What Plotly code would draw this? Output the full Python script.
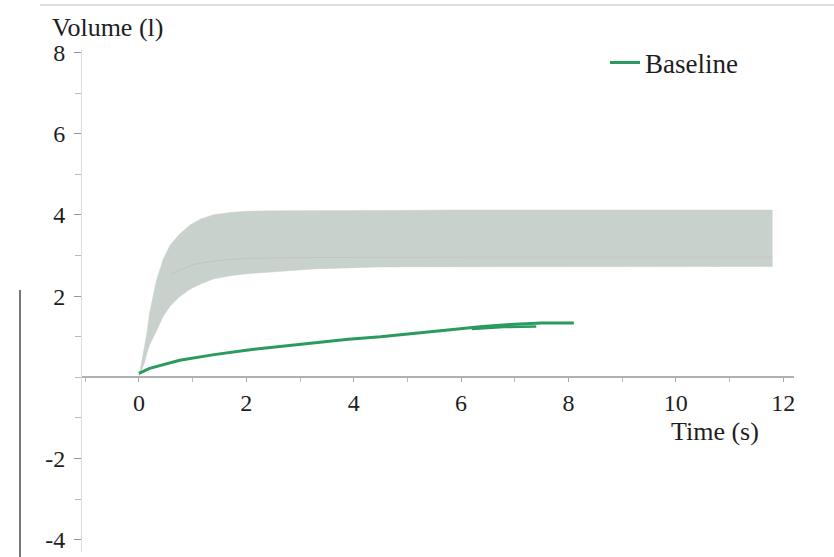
import plotly.graph_objects as go

# ---- data ----
band_t = [0, 0.1, 0.15, 0.2, 0.33, 0.45, 0.58, 0.75, 0.95, 1.15, 1.38, 1.7, 2.0, 2.5, 3.25, 4.5, 6, 8, 10, 11.8]
band_upper = [0, 0.7, 1.1, 1.6, 2.4, 2.9, 3.25, 3.52, 3.75, 3.9, 4.0, 4.06, 4.09, 4.1, 4.11, 4.11, 4.12, 4.12, 4.12, 4.12]
band_lower = [0, 0.35, 0.6, 0.8, 1.15, 1.5, 1.75, 1.98, 2.17, 2.3, 2.42, 2.5, 2.55, 2.6, 2.67, 2.72, 2.72, 2.73, 2.73, 2.73]
band_mid_t = [0.6, 1.0, 1.5, 2.0, 3.0, 4.5, 6, 8, 10, 11.8]
band_mid = [2.55, 2.78, 2.88, 2.93, 2.95, 2.96, 2.96, 2.96, 2.96, 2.96]

baseline_t = [0, 0.2, 0.76, 1.4, 2.0, 2.6, 3.25, 3.9, 4.5, 5.2, 5.8, 6.4, 7.0, 7.5, 8.1]
baseline_v = [0.1, 0.22, 0.42, 0.56, 0.67, 0.76, 0.85, 0.94, 1.0, 1.1, 1.17, 1.25, 1.31, 1.34, 1.34]
baseline2_t = [6.2, 6.8, 7.4]
baseline2_v = [1.19, 1.24, 1.25]

x_major = [0, 2, 4, 6, 8, 10, 12]
x_minor = [-1, 1, 3, 5, 7, 9, 11]
y_major = [-4, -2, 2, 4, 6, 8]
y_major_text = ["-4", "-2", "2", "4", "6", "8"]
y_minor = [-3, -1, 0, 1, 3, 5, 7]

X_RANGE = [-1.06, 12.2]
Y_RANGE = [-4.3, 8.06]

GREEN = "#2b9a5e"
BAND = "#c9d1cc"
FONT = "Liberation Serif"
TXT = "#1e1e1e"

fig = go.Figure()
fig.add_trace(go.Scatter(x=band_t, y=band_lower, mode="lines", line=dict(width=0.5, color=BAND),
                         showlegend=False, hoverinfo="skip"))
fig.add_trace(go.Scatter(x=band_t, y=band_upper, mode="lines", line=dict(width=0.5, color=BAND),
                         fill="tonexty", fillcolor=BAND, showlegend=False, hoverinfo="skip"))
fig.add_trace(go.Scatter(x=band_mid_t, y=band_mid, mode="lines", line=dict(width=1, color="#bfc7c2"),
                         showlegend=False, hoverinfo="skip"))
fig.add_trace(go.Scatter(x=baseline2_t, y=baseline2_v, mode="lines", line=dict(width=2.5, color=GREEN),
                         showlegend=False))
fig.add_trace(go.Scatter(x=baseline_t, y=baseline_v, mode="lines", line=dict(width=3, color=GREEN),
                         name="Baseline"))

W, H = 834, 557
ML, MR, MT, MB = 82, 40, 50, 5
pw, ph = W - ML - MR, H - MT - MB

def px_to_paper(px, py):
    return (px - ML) / pw, (H - MB - py) / ph

zero_pos = (0 - Y_RANGE[0]) / (Y_RANGE[1] - Y_RANGE[0])

fig.update_layout(
    width=W, height=H,
    margin=dict(l=ML, r=MR, t=MT, b=MB),
    paper_bgcolor="white", plot_bgcolor="white",
    font=dict(family=FONT, size=25, color=TXT),
    xaxis=dict(range=X_RANGE, tickvals=x_major, showgrid=False, zeroline=False,
               showline=True, linecolor="#b0b0b0", linewidth=1.5,
               ticks="outside", ticklen=4, tickcolor="#aaaaaa",
               minor=dict(tickvals=x_minor, ticks="outside", ticklen=4, tickcolor="#bbbbbb"),
               anchor="free", position=zero_pos, ticklabelstandoff=0,
               tickfont=dict(family=FONT, size=24, color=TXT)),
    yaxis=dict(range=Y_RANGE, tickvals=y_major, ticktext=y_major_text, showgrid=False, zeroline=False,
               showline=True, linecolor="#dddddd", linewidth=1,
               ticks="outside", ticklen=7, tickcolor="#999999",
               minor=dict(tickvals=y_minor, ticks="outside", ticklen=6, tickcolor="#bbbbbb"),
               ticklabelstandoff=4,
               tickfont=dict(family=FONT, size=24, color=TXT)),
    legend=dict(x=px_to_paper(605, 0)[0], y=px_to_paper(0, 63)[1], xanchor="left", yanchor="middle",
                bgcolor="rgba(0,0,0,0)", font=dict(family=FONT, size=27, color=TXT)),
)

ax, ay = px_to_paper(107, 27)
fig.add_annotation(x=ax, y=ay, xref="paper", yref="paper", text="Volume (l)", showarrow=False,
                   xanchor="center", yanchor="middle", font=dict(family=FONT, size=26, color=TXT))
tx, ty = px_to_paper(715, 431)
fig.add_annotation(x=tx, y=ty, xref="paper", yref="paper", text="Time (s)", showarrow=False,
                   xanchor="center", yanchor="middle", font=dict(family=FONT, size=26, color=TXT))

# scan border artifacts
x0, _ = px_to_paper(20, 0)
_, y0 = px_to_paper(0, 290)
_, y1 = px_to_paper(0, 557)
fig.add_shape(type="line", xref="paper", yref="paper", x0=x0, x1=x0, y0=y0, y1=y1,
              line=dict(color="#777777", width=2))
xa, ya = px_to_paper(40, 5)
xb, _ = px_to_paper(834, 5)
fig.add_shape(type="line", xref="paper", yref="paper", x0=xa, x1=xb, y0=ya, y1=ya,
              line=dict(color="#dddddd", width=2))

fig.write_html("out.html")
